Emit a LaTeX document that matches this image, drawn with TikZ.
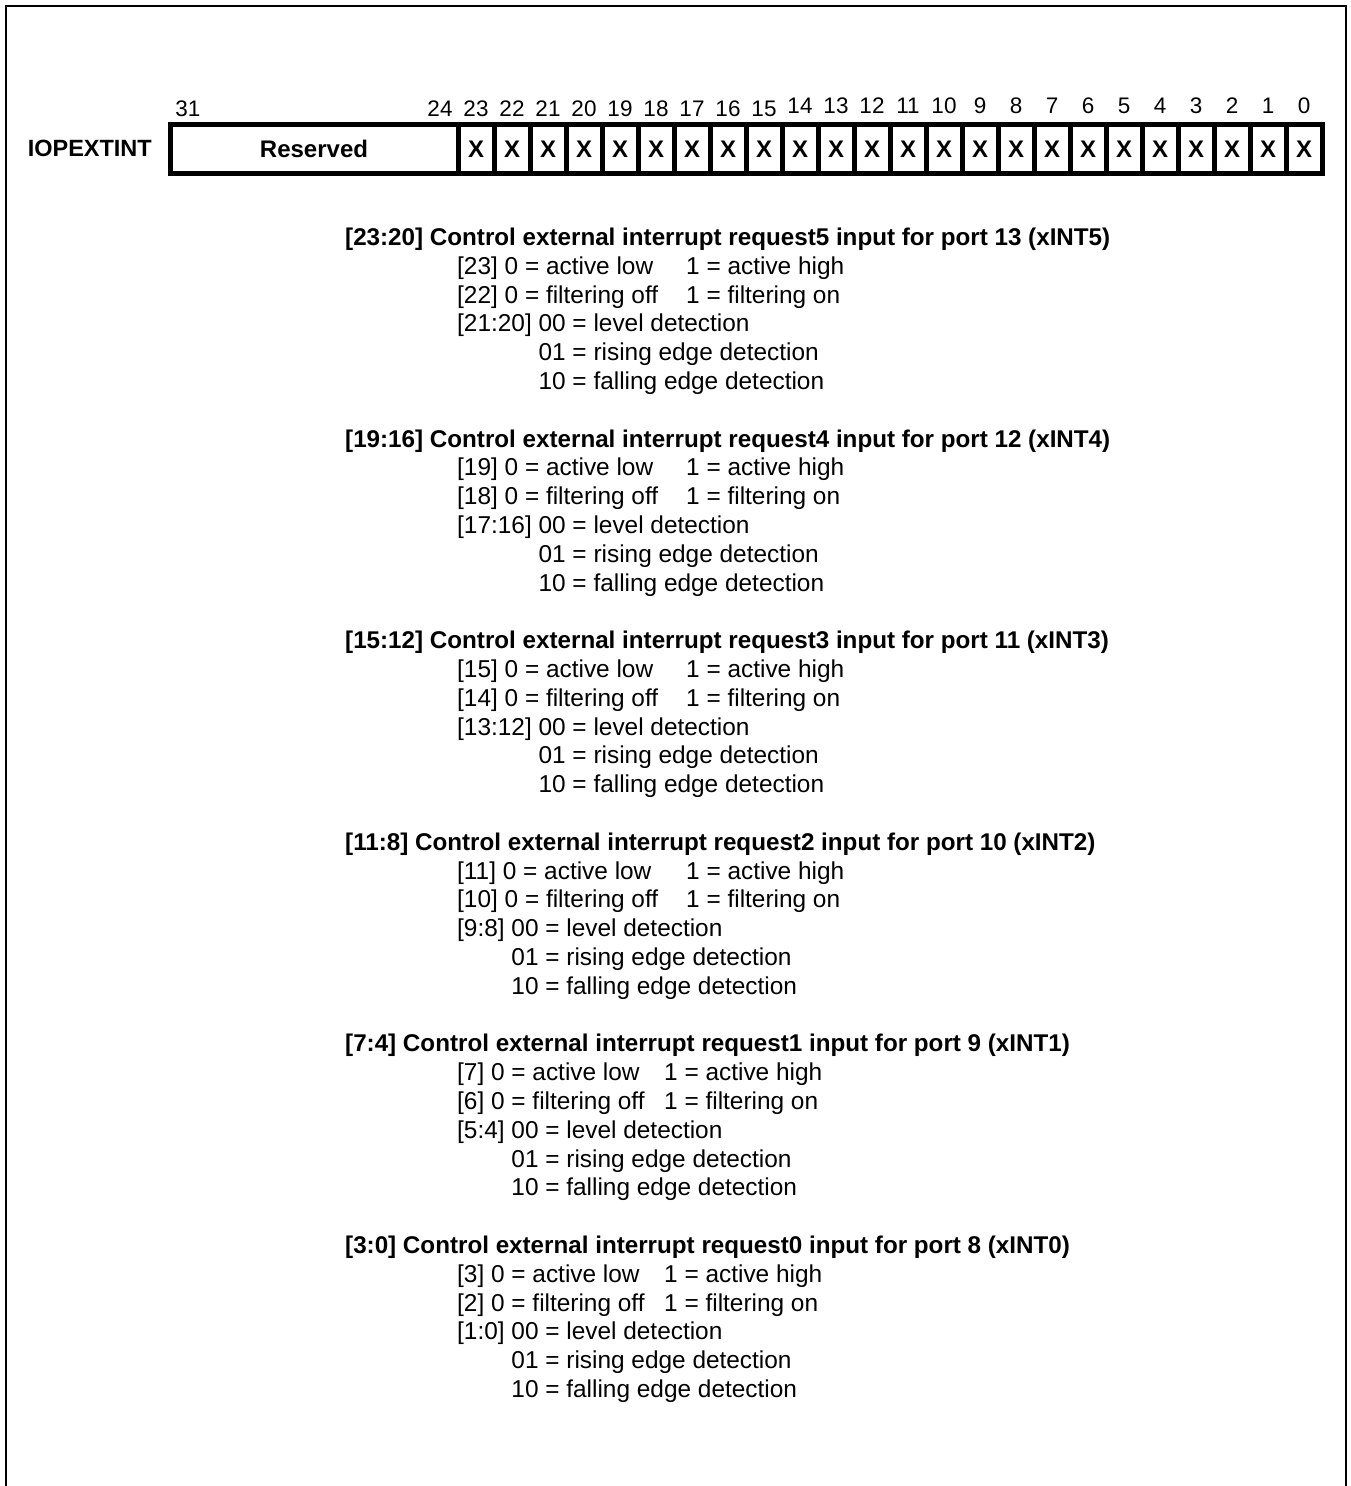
\documentclass[tikz,border=0pt]{standalone}
\usepackage{fontspec}
\setmainfont{Liberation Sans}
\usetikzlibrary{positioning}

\newcommand{\bitw}{36}

\tikzset{
  frameline/.style={line width=2pt},
  field/.style={draw, line width=5pt, inner sep=0pt, outer sep=0pt,
    minimum height=49.5pt, font=\fontsize{24}{28}\selectfont\bfseries},
  bitnum/.style={anchor=base, inner sep=0pt, font=\fontsize{22.5}{26}\selectfont},
  desc/.style={anchor=base west, inner sep=0pt, font=\fontsize{24.4}{29}\selectfont},
  deschead/.style={desc, font=\fontsize{24.2}{29}\selectfont\bfseries},
}

\begin{document}
\begin{tikzpicture}[x=1pt, y=-1pt]
  \useasboundingbox (0,0) rectangle (1351,1486);

  % open frame round the page
  \draw[frameline] (6,1486) -- (6,6) -- (1345.5,6) -- (1345.5,1486);

  % register bar
  \node[field, minimum width=8*\bitw pt, alias=bit24] (resv) at (314,148.75) {Reserved};
  \foreach \b [remember=\b as \prevb (initially 24)] in {23,...,0}
    \node[field, minimum width=\bitw pt, right=0pt of bit\prevb] (bit\b) {X};
  \node[left=18pt of resv, inner sep=0pt, font=\fontsize{23.5}{28}\selectfont\bfseries]
    (regname) {IOPEXTINT};

  % bit numbers
  \foreach \b in {31,24,23,...,0}{
    \pgfmathsetmacro\bx{188+\bitw*(31-\b)}
    \pgfmathsetmacro\by{\b>14 ? 116 : 113}
    \node[bitnum] (num\b) at (\bx,\by) {\b};
  }

  % field descriptions
  \foreach \k in {0,...,5}{
    \pgfmathtruncatemacro\hb{23-4*\k}
    \pgfmathtruncatemacro\hbb{\hb-1}
    \pgfmathtruncatemacro\mb{\hb-2}
    \pgfmathtruncatemacro\lb{\hb-3}
    \pgfmathtruncatemacro\req{5-\k}
    \pgfmathtruncatemacro\port{13-\k}
    \pgfmathsetmacro\y{245.5+201.6*\k}
    \pgfmathsetmacro\tabx{\hb>10 ? 686 : 664}
    \node[deschead] (head\k) at (345,\y)
      {[\hb:\lb] Control external interrupt request\req{} input for port \port{} (xINT\req)};
    \node[desc] (pol\k) at (457,\y+28.8) {[\hb] 0 = active low};
    \node[desc] (polhi\k) at (\tabx,\y+28.8) {1 = active high};
    \node[desc] (filt\k) at (457,\y+57.6) {[\hbb] 0 = filtering off};
    \node[desc] (filton\k) at (\tabx,\y+57.6) {1 = filtering on};
    \node[desc] (lev\k) at (457,\y+86.4) {[\mb:\lb] 00 = level detection};
    \node[desc] (rise\k) at (457,\y+115.2) {\phantom{[\mb:\lb] }01 = rising edge detection};
    \node[desc] (fall\k) at (457,\y+144) {\phantom{[\mb:\lb] }10 = falling edge detection};
  }
\end{tikzpicture}
\end{document}
